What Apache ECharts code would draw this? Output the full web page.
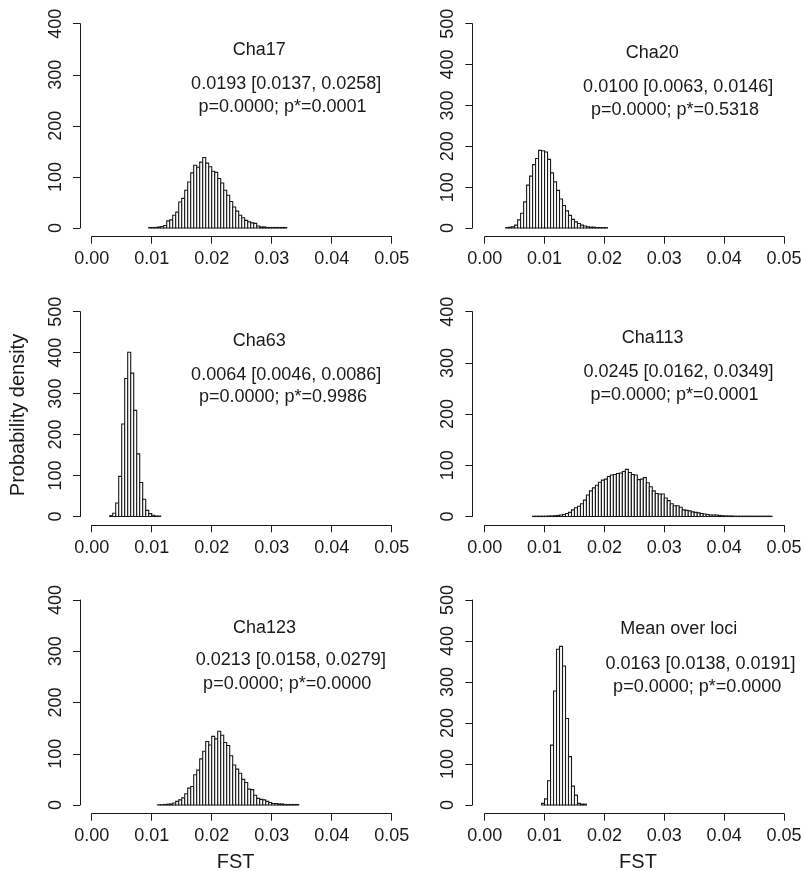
<!DOCTYPE html>
<html>
<head>
<meta charset="utf-8">
<script src="https://cdn.jsdelivr.net/npm/echarts@6.0.0/dist/echarts.min.js"></script>
<style>
html, body { margin: 0; padding: 0; background: #ffffff; }
#chart { width: 803px; height: 871px; }
</style>
</head>
<body>
<div id="chart"></div>
<script>
// Posterior histograms of FST, one panel per locus plus the mean over loci.
// Every histogram uses bins 0.0005 wide; heights are probability densities.
const binWidth = 0.0005;
const xTickValues = [0, 0.01, 0.02, 0.03, 0.04, 0.05];

const cha17Start = 0.0095;
const cha17Density = [1, 1, 1, 2, 3, 5, 14, 16, 25, 31, 51, 58, 74, 90, 108, 123, 119, 129,
  138, 127, 120, 111, 109, 97, 88, 74, 64, 52, 41, 33, 25, 20, 15, 12, 10, 9, 4, 2, 2, 1, 1, 1, 1, 1, 1, 1];

const cha20Start = 0.0035;
const cha20Density = [1, 2, 3, 7, 20, 36, 64, 105, 127, 155, 170, 190, 189, 186, 168, 135, 113,
  92, 71, 55, 42, 31, 21, 15, 11, 7, 5, 3, 2, 2, 1, 1, 1, 1];

const cha63Start = 0.0030;
const cha63Density = [2, 8, 33, 98, 226, 337, 401, 350, 259, 153, 83, 42, 15, 7, 3, 1, 1];

const cha113Start = 0.0080;
const cha113Density = [0.5, 0.5, 0.5, 0.5, 0.5, 1, 1, 1.5,
  2, 3, 4, 6, 8, 13, 17, 20,
  25, 32, 42, 50, 56, 61, 67, 71,
  73, 78, 81, 82, 84, 85, 88, 92,
  86, 82, 81, 72, 73, 76, 66, 58,
  50, 45, 44, 44, 36, 31, 25, 21,
  21, 18, 13, 12, 11, 9, 8, 7,
  6, 5, 4, 3, 3, 3, 2, 1.5,
  1, 1, 1, 0.5, 0.5, 0.5, 0.5, 0.5,
  0.5, 0.5, 0.5, 0.5, 0.5, 0.5, 0.5, 0.5];

const cha123Start = 0.0110;
const cha123Density = [0.5, 0.5, 1, 1.5, 2, 4, 7, 10, 14, 22, 33, 36, 59, 68, 90, 105, 124, 117,
  134, 129, 144, 136, 122, 116, 96, 78, 70, 62, 50, 44, 31, 30, 19, 13, 11, 10, 7, 5, 3, 3,
  2, 2, 1, 1, 1, 1, 1];

const meanStart = 0.0095;
const meanDensity = [4, 15, 59, 146, 278, 380, 387, 339, 211, 118, 46, 24, 4, 2, 2];

// Upper end of each panel's density axis
const yMaxValues = [400, 500, 500, 400, 400, 500];

// Panel captions: name, estimate with interval, p-values
const panelNames = ['Cha17', 'Cha20', 'Cha63', 'Cha113', 'Cha123', 'Mean over loci'];
const panelEstimates = [
  '0.0193 [0.0137, 0.0258]',
  '0.0100 [0.0063, 0.0146]',
  '0.0064 [0.0046, 0.0086]',
  '0.0245 [0.0162, 0.0349]',
  '0.0213 [0.0158, 0.0279]',
  '0.0163 [0.0138, 0.0191]'
];
const panelPValues = [
  'p=0.0000; p*=0.0001',
  'p=0.0000; p*=0.5318',
  'p=0.0000; p*=0.9986',
  'p=0.0000; p*=0.0001',
  'p=0.0000; p*=0.0000',
  'p=0.0000; p*=0.0000'
];
const yAxisTitle = 'Probability density';
const xAxisTitle = 'FST';

const histograms = [
  [cha17Start, cha17Density],
  [cha20Start, cha20Density],
  [cha63Start, cha63Density],
  [cha113Start, cha113Density],
  [cha123Start, cha123Density],
  [meanStart, meanDensity]
];

// ---- layout (pixels) ----
const INK = '#1a1a1a';
const FONT = '"Liberation Sans", Arial, Helvetica, sans-serif';
const columns = [
  { left: 91.7, width: 300, axisX: 80 },
  { left: 484.7, width: 299.3, axisX: 472.3 }
];
const rowsLayout = [
  { top: 23.7, zero: 228, axisY: 236.7 },
  { top: 311.7, zero: 516.5, axisY: 525.3 },
  { top: 600, zero: 805, axisY: 813.7 }
];
// caption centres [name, estimate, p-values] for each panel
const captionPos = [
  [[259.2, 49.8], [286.2, 83.8], [282.5, 106.8]],
  [[652.2, 53.2], [678.2, 86.8], [675.0, 110.2]],
  [[259.2, 341.3], [286.2, 374.7], [283.0, 397.2]],
  [[652.7, 338.3], [678.5, 371.7], [674.5, 395.5]],
  [[264.5, 628.0], [290.8, 660.0], [287.2, 684.5]],
  [[678.8, 629.2], [700.5, 664.2], [697.2, 687.2]]
];

const grids = [], xAxes = [], yAxes = [], series = [], graphics = [];

histograms.forEach(function (h, i) {
  const col = columns[i % 2];
  const row = rowsLayout[Math.floor(i / 2)];
  grids.push({
    left: col.left, top: row.top, width: col.width, height: row.zero - row.top,
    outerBoundsMode: 'none', containLabel: false
  });
  xAxes.push({
    gridIndex: i, type: 'value', min: 0, max: 0.05, interval: 0.01,
    position: 'bottom', offset: row.axisY - row.zero,
    axisLine: { show: true, onZero: false, lineStyle: { color: INK, width: 1 } },
    axisTick: { show: true, length: 7, lineStyle: { color: INK, width: 1 } },
    axisLabel: {
      show: true, margin: 13.5, color: INK, fontSize: 18, fontFamily: FONT,
      showMinLabel: true, showMaxLabel: true,
      formatter: function (v) { return v.toFixed(2); }
    },
    splitLine: { show: false }
  });
  yAxes.push({
    gridIndex: i, type: 'value', min: 0, max: yMaxValues[i], interval: 100,
    position: 'left', offset: col.left - col.axisX,
    axisLine: { show: true, onZero: false, lineStyle: { color: INK, width: 1 } },
    axisTick: { show: true, length: 7, lineStyle: { color: INK, width: 1 } },
    axisLabel: {
      show: true, rotate: 90, margin: 15, color: INK, fontSize: 18, fontFamily: FONT,
      showMinLabel: true, showMaxLabel: true
    },
    splitLine: { show: false }
  });
  const start = h[0];
  const data = h[1].map(function (d, k) {
    const x0 = start + k * binWidth;
    return [x0, x0 + binWidth, d];
  });
  series.push({
    type: 'custom', xAxisIndex: i, yAxisIndex: i, silent: true, clip: false,
    data: data,
    renderItem: function (params, api) {
      const p0 = api.coord([api.value(0), 0]);
      const p1 = api.coord([api.value(1), api.value(2)]);
      return {
        type: 'rect',
        shape: { x: p0[0], y: p1[1], width: p1[0] - p0[0], height: p0[1] - p1[1] },
        style: { fill: '#ffffff', stroke: INK, lineWidth: 1.1 }
      };
    }
  });
  const texts = [panelNames[i], panelEstimates[i], panelPValues[i]];
  texts.forEach(function (t, j) {
    const pos = captionPos[i][j];
    graphics.push({
      type: 'text', x: pos[0], y: pos[1], silent: true,
      style: {
        text: t, fill: INK, font: '18px ' + FONT,
        textAlign: 'center', textVerticalAlign: 'middle',
        align: 'center', verticalAlign: 'middle'
      }
    });
  });
});

graphics.push({
  type: 'text', x: 18.3, y: 415, rotation: Math.PI / 2, silent: true,
  style: {
    text: yAxisTitle, fill: INK, font: '20px ' + FONT,
    textAlign: 'center', textVerticalAlign: 'middle', align: 'center', verticalAlign: 'middle'
  }
});
[235.7, 638].forEach(function (cx) {
  graphics.push({
    type: 'text', x: cx, y: 862.7, silent: true,
    style: {
      text: xAxisTitle, fill: INK, font: '20px ' + FONT,
      textAlign: 'center', textVerticalAlign: 'middle', align: 'center', verticalAlign: 'middle'
    }
  });
});

const chart = echarts.init(document.getElementById('chart'), null, { renderer: 'canvas' });
chart.setOption({
  animation: false,
  backgroundColor: '#ffffff',
  grid: grids,
  xAxis: xAxes,
  yAxis: yAxes,
  series: series,
  graphic: graphics
});
</script>
</body>
</html>
